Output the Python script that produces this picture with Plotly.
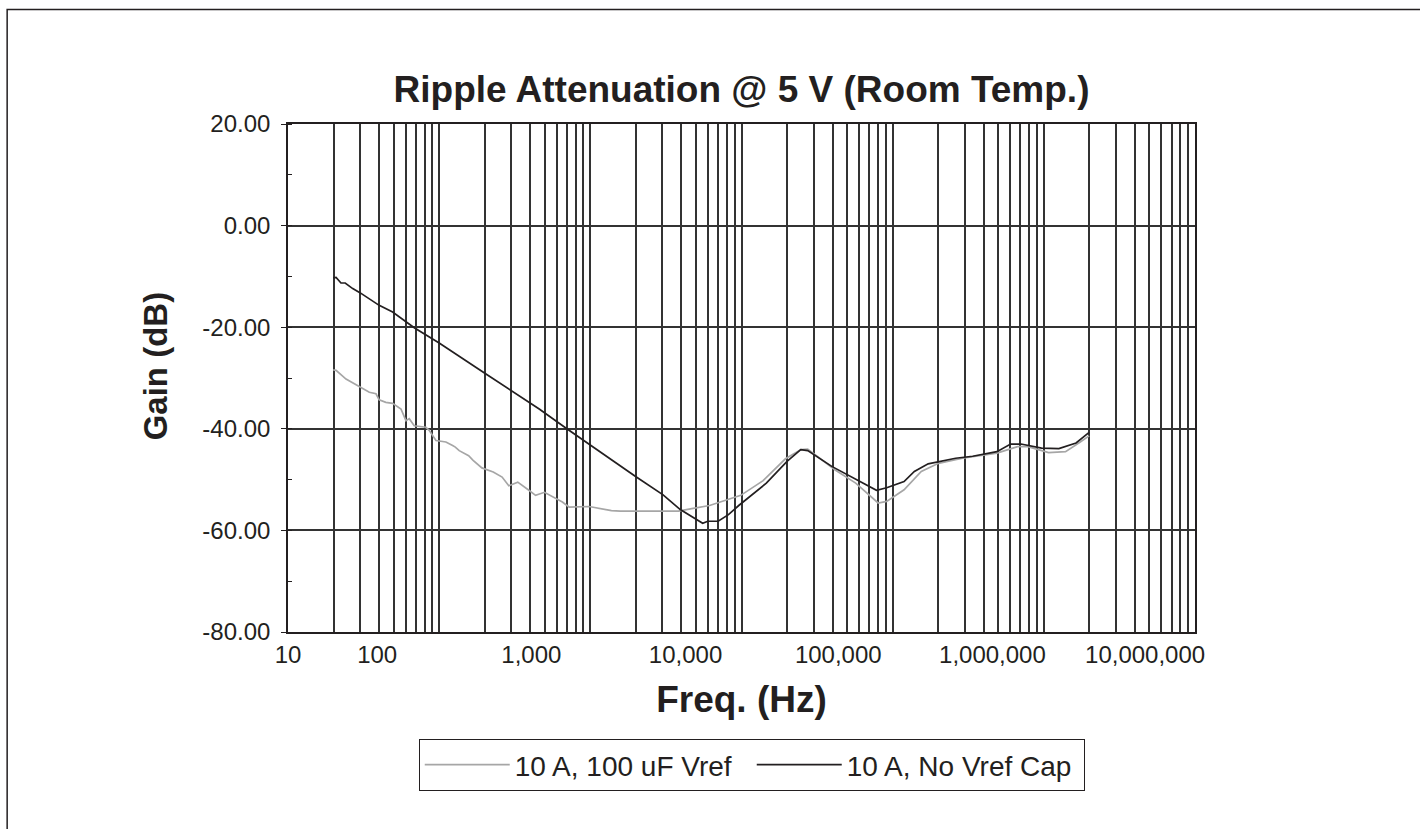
import plotly.graph_objects as go

# ---------------- data ----------------
freq_no_cap = [19.9, 20.8, 22.4, 23.9, 26.8, 29.9, 40.1, 49.2, 68.4, 100, 204, 306, 459, 707,
               1116, 1380, 1993, 3029, 3936, 5535, 5983, 7007, 8199, 9590, 14600, 20010,
               24650, 27420, 39530, 56940, 78150, 91270, 118950, 139150, 171700, 260950,
               338000, 489400, 602900, 706300, 966300, 1257500, 1634000, 1994000]
gain_no_cap = [-10.3, -10.2, -11.3, -11.3, -12.4, -13.2, -15.7, -17.0, -20.1, -23.1, -29.2,
               -32.7, -36.1, -40.1, -44.1, -46.1, -49.4, -53.0, -55.9, -58.6, -58.2, -58.2,
               -56.9, -55.1, -50.7, -46.4, -44.1, -44.3, -47.4, -50.0, -52.1, -51.6, -50.4,
               -48.4, -46.9, -45.8, -45.4, -44.5, -43.0, -43.0, -43.8, -43.9, -42.8, -40.7]

freq_100uf = [19.9, 20.8, 24.2, 29.6, 34.5, 38.2, 40.1, 44.4, 49.2, 55.9, 60.3, 63.4, 68.4,
              81.7, 85.9, 95.2, 110.8, 122.7, 127.9, 135.7, 156.7, 167.7, 191.7, 227.8, 260.8,
              288.8, 331.1, 392.2, 434.1, 497.2, 653.1, 723.2, 981.9, 1379, 1579, 2374, 3823,
              4690, 6150, 9888, 13905, 19530, 24760, 27420, 41680, 56940, 80200, 91270,
              118950, 154600, 200900, 289800, 489400, 670500, 784700, 1075000, 1392000,
              1723000, 1994000]
gain_100uf = [-28.4, -28.5, -30.2, -31.7, -32.8, -33.1, -34.3, -34.8, -35.0, -36.1, -38.4,
              -38.0, -39.4, -39.7, -40.3, -42.3, -42.6, -43.3, -43.6, -44.3, -45.3, -46.2,
              -47.7, -48.5, -49.5, -51.2, -50.5, -52.1, -53.1, -52.5, -54.4, -55.4, -55.3,
              -56.1, -56.2, -56.2, -56.2, -55.7, -55.1, -53.1, -50.2, -45.9, -44.1, -44.0,
              -48.1, -50.7, -54.6, -54.3, -52.0, -48.4, -46.8, -45.8, -44.8, -43.5, -43.5,
              -44.7, -44.5, -42.7, -41.4]

series_names = ["10 A, 100 uF Vref", "10 A, No Vref Cap"]
x_tick_labels = ["10", "100", "1,000", "10,000", "100,000", "1,000,000", "10,000,000"]
x_tick_decades = [1, 2, 3, 4, 5, 6, 7]
y_ticks = [20, 0, -20, -40, -60, -80]
y_tick_labels = [f"{v:.2f}" for v in y_ticks]

# ---------------- layout constants ----------------
INK = "#231f20"
GRID = "#333333"
FONT = "Liberation Sans, Arial, Helvetica, sans-serif"
# labels in the reference sit to the left of their decade gridlines (in decades)
LABEL_SHIFT = [0.0, -0.41, -0.39, -0.37, -0.36, -0.34, -0.33]

label_vals = [10 ** (d + s) for d, s in zip(x_tick_decades, LABEL_SHIFT)]
grid_vals = [m * 10 ** k for k in range(1, 7) for m in range(1, 10)] + [10 ** 7]

fig = go.Figure()
fig.add_trace(go.Scatter(x=freq_100uf, y=gain_100uf, mode="lines", name=series_names[0],
                         line=dict(color="#a6a6a6", width=1.7)))
fig.add_trace(go.Scatter(x=freq_no_cap, y=gain_no_cap, mode="lines", name=series_names[1],
                         line=dict(color=INK, width=1.7)))

L, R, T, B = 288, 1195.5, 123.5, 632
W, H = 1420, 829
pw, ph = R - L, B - T

fig.update_layout(
    width=W, height=H,
    margin=dict(l=L, r=W - R, t=T, b=H - B, pad=0),
    paper_bgcolor="white", plot_bgcolor="white",
    font=dict(family=FONT, color=INK, size=24),
    title=dict(text="<b>Ripple Attenuation @ 5 V (Room Temp.)</b>",
               x=741.5 / W, xanchor="center", y=1 - 89 / H, yanchor="middle",
               yref="container", xref="container",
               font=dict(size=37, family=FONT, color=INK)),
    showlegend=True,
    legend=dict(orientation="h", x=(752 - L) / pw, xanchor="center",
                y=(B - 739) / ph, yanchor="top",
                bordercolor=INK, borderwidth=1, bgcolor="white",
                font=dict(size=28, family=FONT, color=INK),
                itemwidth=85, tracegroupgap=0,
                entrywidth=232, entrywidthmode="pixels"),
    xaxis=dict(type="log", range=[1, 7],
               tickmode="array", tickvals=label_vals, ticktext=x_tick_labels,
               ticks="", showgrid=False, zeroline=False,
               showline=True, linecolor=INK, linewidth=1.6, mirror=True,
               tickfont=dict(size=24, family=FONT, color=INK),
               minor=dict(tickmode="array", tickvals=grid_vals, showgrid=True,
                          gridcolor=GRID, gridwidth=1.5, ticks=""),
               title=dict(text="<b>Freq. (Hz)</b>", font=dict(size=37, family=FONT, color=INK),
                          standoff=20)),
    yaxis=dict(range=[-80, 20], tickmode="array", tickvals=y_ticks, ticktext=y_tick_labels,
               ticks="outside", ticklen=5, tickwidth=1.4, tickcolor=INK,
               ticklabelstandoff=6,
               showgrid=True, gridcolor=GRID, gridwidth=1.5, zeroline=False,
               showline=True, linecolor=INK, linewidth=1.6, mirror=True,
               tickfont=dict(size=24, family=FONT, color=INK),
               minor=dict(dtick=10, ticks="inside", ticklen=4, tickwidth=1.3,
                          tickcolor=INK, showgrid=False)),
    annotations=[dict(text="<b>Gain (dB)</b>", textangle=-90, showarrow=False,
                      xref="paper", yref="paper",
                      x=(155 - L) / pw, y=(B - 366) / ph,
                      xanchor="center", yanchor="middle",
                      font=dict(size=33, family=FONT, color=INK))],
)

# outer frame of the figure (runs off the right and bottom edges, as in the reference)
fig.add_shape(type="rect", xref="paper", yref="paper",
              x0=(7 - L) / pw, x1=(W + 20 - L) / pw,
              y0=(B - (H + 20)) / ph, y1=(B - 9) / ph,
              line=dict(color=INK, width=1.5), fillcolor="rgba(0,0,0,0)", layer="below")

fig.write_html("out.html", config={"displayModeBar": False},
               post_script="document.body.style.margin='0';document.body.style.padding='0';")
